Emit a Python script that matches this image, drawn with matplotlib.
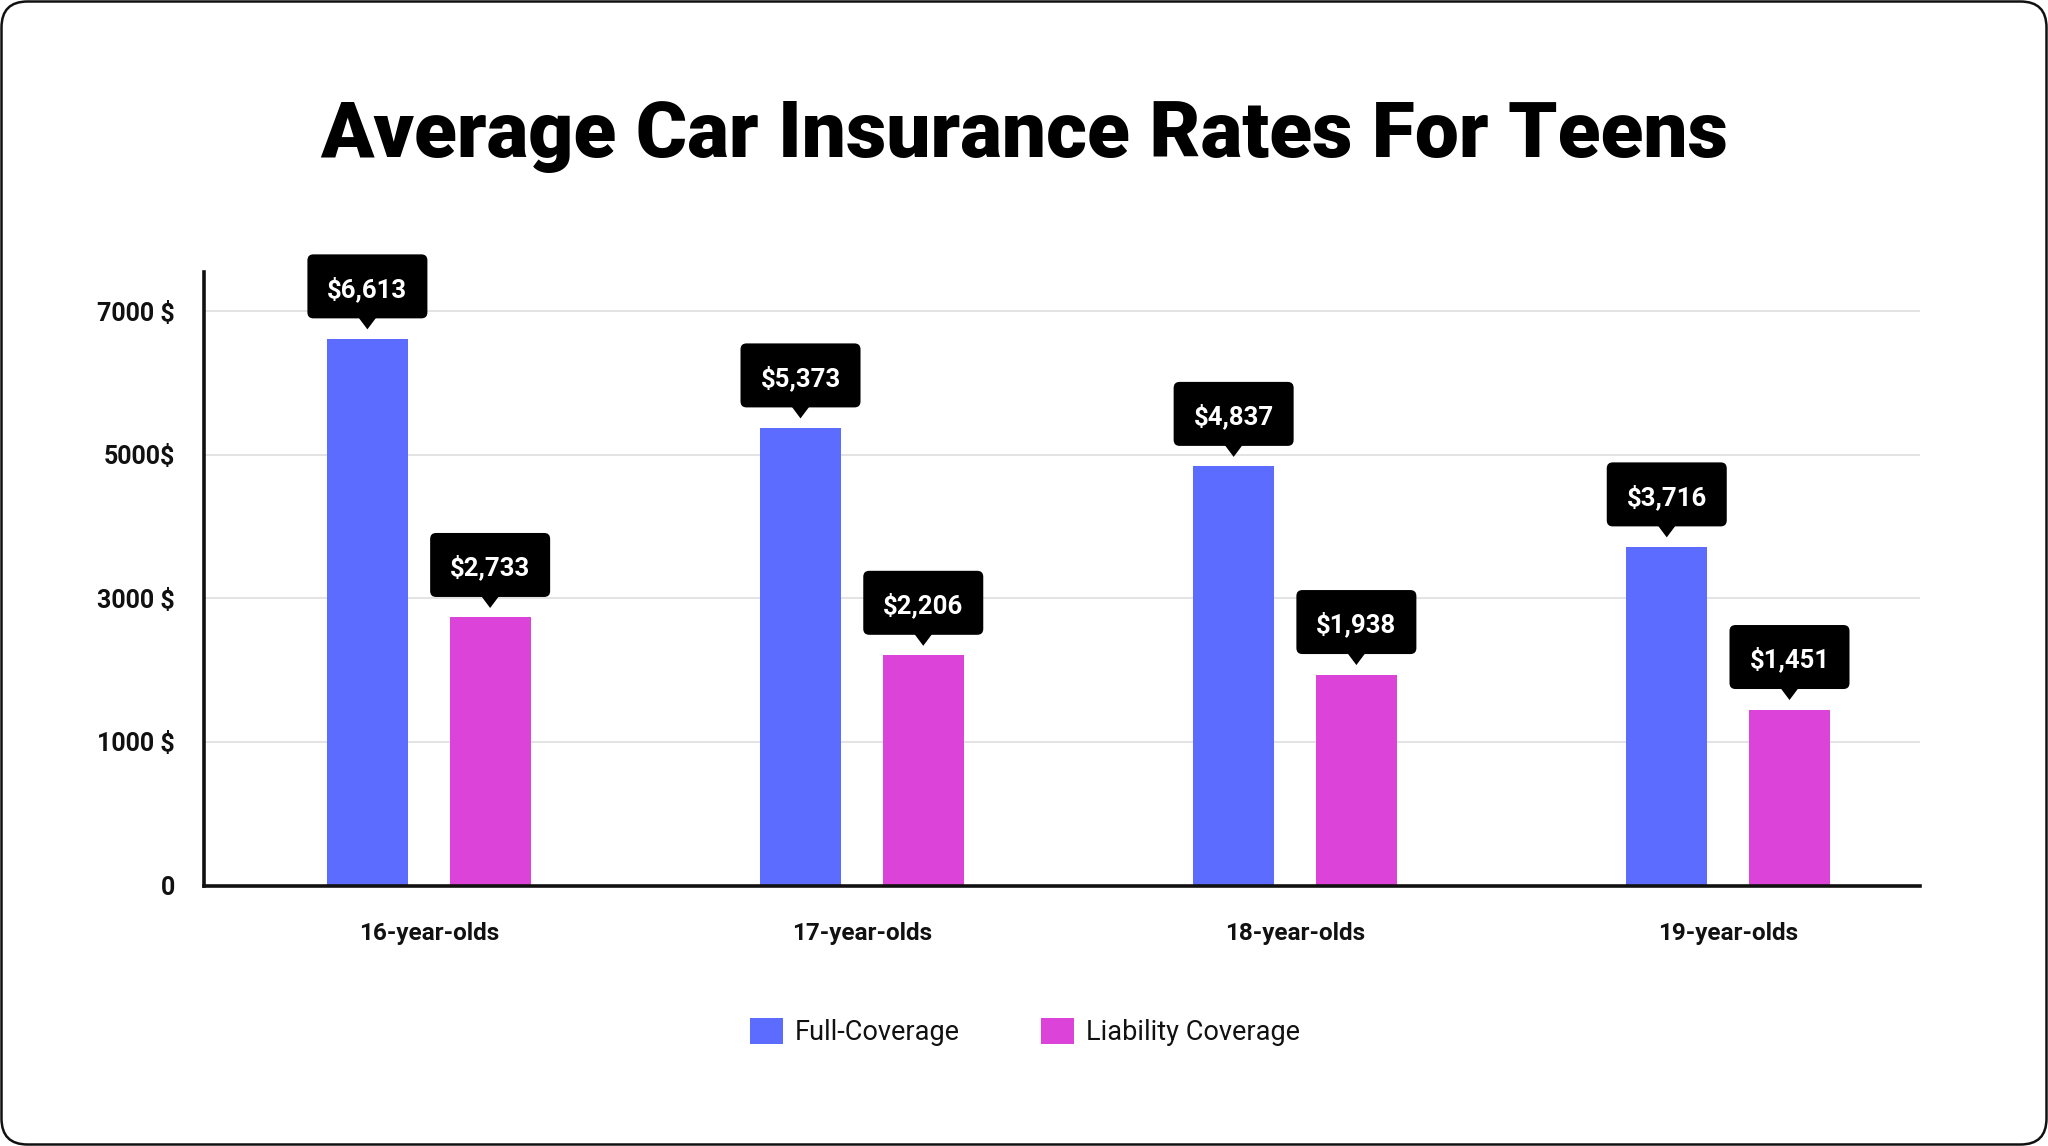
import numpy as np
import matplotlib
matplotlib.use("Agg")
import matplotlib.pyplot as plt
from matplotlib import transforms
from matplotlib.patches import FancyBboxPatch, Polygon

plt.rcParams['font.family'] = ['Roboto', 'DejaVu Sans']

# ---- data ----
title = "Average Car Insurance Rates For Teens"
categories = ["16-year-olds", "17-year-olds", "18-year-olds", "19-year-olds"]
series_names = ["Full-Coverage", "Liability Coverage"]
full_coverage = [6613, 5373, 4837, 3716]
liability = [2733, 2206, 1938, 1451]
tick_values = [0, 1000, 3000, 5000, 7000]
tick_labels = ["0", "1000 $", "3000 $", "5000$", "7000 $"]

colors = ["#5c6cfe", "#db43d9"]

# axis breakpoints (the reference axis spaces its ticks evenly)
_xp = np.array([-1000, 0, 1000, 3000, 5000, 7000, 9000], dtype=float)
_fp = np.array([-1, 0, 1, 2, 3, 4, 5], dtype=float)


def forward(v):
    return np.interp(v, _xp, _fp)


def inverse(u):
    return np.interp(u, _fp, _xp)


fig = plt.figure(figsize=(20.48, 11.46), dpi=100)
fig.patch.set_facecolor("white")
ax = fig.add_axes([0.0996, 0.2273, 0.8379, 0.5354])
ax.set_yscale("function", functions=(forward, inverse))

x = np.arange(len(categories))
offset = 0.1417
width = 0.187
b1 = ax.bar(x - offset, full_coverage, width, color=colors[0], label=series_names[0], zorder=3)
b2 = ax.bar(x + offset, liability, width, color=colors[1], label=series_names[1], zorder=3)

ax.set_xlim(-0.519, 3.443)
ax.set_ylim(0, 7545)

ax.set_yticks(tick_values)
ax.set_yticklabels(tick_labels)
ax.set_xticks(x)
ax.set_xticklabels(categories)
ax.yaxis.set_minor_locator(matplotlib.ticker.NullLocator())
ax.tick_params(axis="y", length=0, pad=21, labelsize=18, labelcolor="#111111")
ax.tick_params(axis="x", length=0, pad=26, labelsize=17.5, labelcolor="#111111")
for lab in ax.get_yticklabels() + ax.get_xticklabels():
    lab.set_fontweight("bold")

ax.grid(axis="y", color="#e3e3e3", linewidth=1.4, zorder=0)
ax.grid(axis="x", visible=False)
for s in ["top", "right"]:
    ax.spines[s].set_visible(False)
for s in ["left", "bottom"]:
    ax.spines[s].set_color("#111111")
    ax.spines[s].set_linewidth(2.6)
ax.spines["left"].set_zorder(5)
ax.spines["bottom"].set_zorder(5)


def add_label(xc, val):
    trans = fig.dpi_scale_trans + transforms.ScaledTranslation(xc, val, ax.transData)
    box = FancyBboxPatch((-0.60, 0.205), 1.20, 0.64,
                         boxstyle="round,pad=0,rounding_size=0.06",
                         fc="black", ec="none", transform=trans, clip_on=False, zorder=6)
    ax.add_artist(box)
    tri = Polygon([(-0.09, 0.215), (0.09, 0.215), (0.0, 0.095)], closed=True,
                  fc="black", ec="none", transform=trans, clip_on=False, zorder=6)
    ax.add_artist(tri)
    ax.text(0, 0.525, f"${val:,}", transform=trans, ha="center", va="center_baseline",
            color="white", fontsize=18.5, fontweight="bold", zorder=7, clip_on=False)


for xi, v in zip(x - offset, full_coverage):
    add_label(xi, v)
for xi, v in zip(x + offset, liability):
    add_label(xi, v)

fig.text(0.5, 0.8633, title, ha="center", va="baseline", fontsize=56.5,
         fontweight="black", color="black")

fig.legend(handles=[b1, b2], labels=series_names, loc="center",
           bbox_to_anchor=(0.5005, 0.0997), ncol=2, frameon=False,
           fontsize=19.5, handlelength=1.22, handleheight=1.13,
           handletextpad=0.45, columnspacing=3.0, labelcolor="#111111")

border = FancyBboxPatch((0.015, 0.015), 20.45, 11.43,
                        boxstyle="round,pad=0,rounding_size=0.26",
                        fill=False, ec="#111111", lw=1.8,
                        transform=fig.dpi_scale_trans, zorder=10)
fig.add_artist(border)

fig.savefig("out.png", dpi=100, facecolor="white")
